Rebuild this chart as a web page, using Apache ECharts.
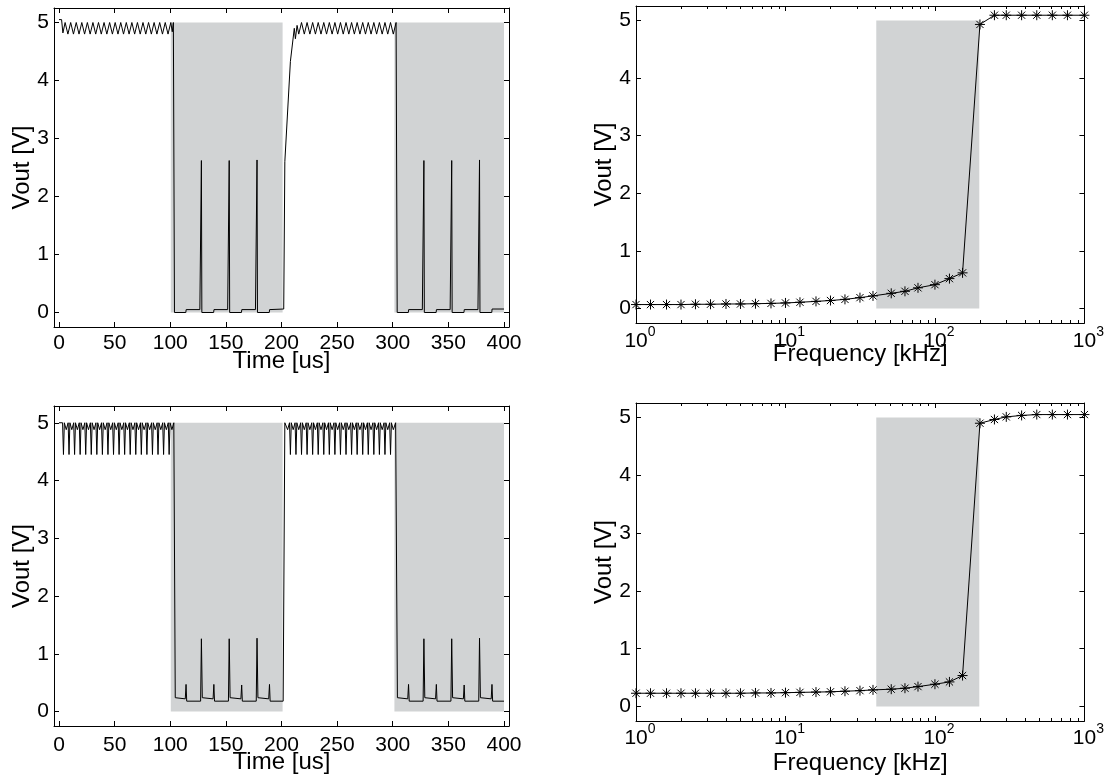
<!DOCTYPE html>
<html>
<head>
<meta charset="utf-8">
<script src="https://cdn.jsdelivr.net/npm/echarts@6/dist/echarts.min.js"></script>
<style>
html,body{margin:0;padding:0;background:#fff;}
#chart{width:1107px;height:780px;}
</style>
</head>
<body>
<div id="chart"></div>
<script>
// ---------- DATA ----------
const timeTicks = [0, 50, 100, 150, 200, 250, 300, 350, 400];
const voltTicks = [0, 1, 2, 3, 4, 5];
const minorFreqTicks = [2,3,4,5,6,7,8,9,20,30,40,50,60,70,80,90,200,300,400,500,600,700,800,900];

// top-left transient waveform [time us, Vout V]
const tlWave = [
 [0,5.05],[2.3,5.05],[3.5,4.82],
 [5.5,5.0],[8,4.8],[10.5,5.0],[13,4.8],[15.5,5.0],[18,4.8],[20.5,5.0],[23,4.8],[25.5,5.0],[28,4.8],
 [30.5,5.0],[33,4.8],[35.5,5.0],[38,4.8],[40.5,5.0],[43,4.8],[45.5,5.0],[48,4.8],[50.5,5.0],[53,4.8],
 [55.5,5.0],[58,4.8],[60.5,5.0],[63,4.8],[65.5,5.0],[68,4.8],[70.5,5.0],[73,4.8],[75.5,5.0],[78,4.8],
 [80.5,5.0],[83,4.8],[85.5,5.0],[88,4.8],[90.5,5.0],[93,4.8],[95.5,5.0],[98,4.8],[100.5,5.0],[101.8,4.84],[102.8,5.0],
 [103.8,0.0],[114,0.0],[114.3,0.05],[126.6,0.05],[128,2.62],[128.4,0.0],
 [139,0.0],[139.3,0.05],[151.6,0.05],[153,2.62],[153.4,0.0],
 [164,0.0],[164.3,0.05],[176.6,0.05],[178,2.63],[178.4,0.0],
 [189,0.0],[189.3,0.05],[202,0.06],[203,2.6],[204.5,2.62],[208,4.33],[209,4.36],[211.5,4.9],[212.5,4.72],
 [214,4.95],[215.5,4.8],[218,5.0],[220.5,4.8],[223,5.0],[225.5,4.8],[228,5.0],[230.5,4.8],[233,5.0],[235.5,4.8],
 [238,5.0],[240.5,4.8],[243,5.0],[245.5,4.8],[248,5.0],[250.5,4.8],[253,5.0],[255.5,4.8],[258,5.0],[260.5,4.8],
 [263,5.0],[265.5,4.8],[268,5.0],[270.5,4.8],[273,5.0],[275.5,4.8],[278,5.0],[280.5,4.8],[283,5.0],[285.5,4.8],
 [288,5.0],[290.5,4.8],[293,5.0],[295.5,4.8],[298,5.0],[300.5,4.8],[303,5.0],
 [304,0.0],[314,0.0],[314.3,0.05],[326.6,0.05],[328,2.62],[328.4,0.0],
 [339,0.0],[339.3,0.05],[351.6,0.05],[353,2.62],[353.4,0.0],
 [364,0.0],[364.3,0.05],[376.6,0.05],[378,2.63],[378.4,0.0],
 [389,0.0],[389.3,0.06],[400,0.06]
];

// bottom-left transient waveform [time us, Vout V]
const blWave = [
 [0,5.0],[3.2,5.0],
 [4,4.45],[4.8,5.0],[6.5,4.88],[8.2,5.0],
 [9,4.45],[9.8,5.0],[11.5,4.88],[13.2,5.0],
 [14,4.45],[14.8,5.0],[16.5,4.88],[18.2,5.0],
 [19,4.45],[19.8,5.0],[21.5,4.88],[23.2,5.0],
 [24,4.45],[24.8,5.0],[26.5,4.88],[28.2,5.0],
 [29,4.45],[29.8,5.0],[31.5,4.88],[33.2,5.0],
 [34,4.45],[34.8,5.0],[36.5,4.88],[38.2,5.0],
 [39,4.45],[39.8,5.0],[41.5,4.88],[43.2,5.0],
 [44,4.45],[44.8,5.0],[46.5,4.88],[48.2,5.0],
 [49,4.45],[49.8,5.0],[51.5,4.88],[53.2,5.0],
 [54,4.45],[54.8,5.0],[56.5,4.88],[58.2,5.0],
 [59,4.45],[59.8,5.0],[61.5,4.88],[63.2,5.0],
 [64,4.45],[64.8,5.0],[66.5,4.88],[68.2,5.0],
 [69,4.45],[69.8,5.0],[71.5,4.88],[73.2,5.0],
 [74,4.45],[74.8,5.0],[76.5,4.88],[78.2,5.0],
 [79,4.45],[79.8,5.0],[81.5,4.88],[83.2,5.0],
 [84,4.45],[84.8,5.0],[86.5,4.88],[88.2,5.0],
 [89,4.45],[89.8,5.0],[91.5,4.88],[93.2,5.0],
 [94,4.45],[94.8,5.0],[96.5,4.88],[98.2,5.0],
 [99,4.45],[99.8,5.0],[101.5,4.88],[103.2,5.0],
 [104.5,0.24],[113.5,0.22],[114.2,0.47],[114.8,0.18],[127.3,0.18],[128,1.26],[128.8,0.24],
 [138.5,0.22],[139.2,0.47],[139.8,0.18],[152.3,0.18],[153,1.26],[153.8,0.24],
 [163.5,0.22],[164.2,0.46],[164.8,0.18],[177.3,0.18],[178,1.27],[178.8,0.24],
 [188.5,0.22],[189.2,0.47],[189.8,0.18],[201.5,0.18],[203,5.0],
 [205.5,4.88],[207.2,5.0],
 [208,4.45],[208.8,5.0],[210.5,4.88],[212.2,5.0],
 [213,4.45],[213.8,5.0],[215.5,4.88],[217.2,5.0],
 [218,4.45],[218.8,5.0],[220.5,4.88],[222.2,5.0],
 [223,4.45],[223.8,5.0],[225.5,4.88],[227.2,5.0],
 [228,4.45],[228.8,5.0],[230.5,4.88],[232.2,5.0],
 [233,4.45],[233.8,5.0],[235.5,4.88],[237.2,5.0],
 [238,4.45],[238.8,5.0],[240.5,4.88],[242.2,5.0],
 [243,4.45],[243.8,5.0],[245.5,4.88],[247.2,5.0],
 [248,4.45],[248.8,5.0],[250.5,4.88],[252.2,5.0],
 [253,4.45],[253.8,5.0],[255.5,4.88],[257.2,5.0],
 [258,4.45],[258.8,5.0],[260.5,4.88],[262.2,5.0],
 [263,4.45],[263.8,5.0],[265.5,4.88],[267.2,5.0],
 [268,4.45],[268.8,5.0],[270.5,4.88],[272.2,5.0],
 [273,4.45],[273.8,5.0],[275.5,4.88],[277.2,5.0],
 [278,4.45],[278.8,5.0],[280.5,4.88],[282.2,5.0],
 [283,4.45],[283.8,5.0],[285.5,4.88],[287.2,5.0],
 [288,4.45],[288.8,5.0],[290.5,4.88],[292.2,5.0],
 [293,4.45],[293.8,5.0],[295.5,4.88],[297.2,5.0],
 [298,4.45],[298.8,5.0],[300.5,4.88],[302.6,5.0],
 [304.2,0.24],[313.5,0.22],[314.2,0.47],[314.8,0.18],[327.3,0.18],[328,1.26],[328.8,0.24],
 [338.5,0.22],[339.2,0.47],[339.8,0.18],[352.3,0.18],[353,1.26],[353.8,0.24],
 [363.5,0.22],[364.2,0.46],[364.8,0.18],[377.3,0.18],[378,1.27],[378.8,0.24],
 [388.5,0.22],[389.2,0.47],[389.8,0.18],[400,0.18]
];

// frequency sweeps
const freqKHz = [1,1.25,1.6,2,2.5,3.15,4,5,6.3,8,10,12.5,16,20,25,31.5,38.5,51,63,77,100,125,153,200,250,300,380,480,610,770,1000];
const trVout = [0.07,0.07,0.07,0.07,0.075,0.075,0.08,0.08,0.085,0.09,0.098,0.11,0.125,0.14,0.16,0.19,0.22,0.265,0.3,0.36,0.415,0.52,0.62,4.93,5.09,5.09,5.09,5.09,5.09,5.09,5.09];
const brVout = [0.23,0.23,0.23,0.23,0.23,0.23,0.23,0.23,0.235,0.235,0.24,0.245,0.25,0.255,0.265,0.275,0.288,0.3,0.317,0.345,0.386,0.426,0.536,4.9,4.965,5.01,5.035,5.05,5.05,5.05,5.05];

// shaded regions [x0, x1, y0, y1]
const tlBoxes = [[100.5, 201, 0, 5], [301.5, 400, 0, 5]];
const blBoxes = [[100.5, 201, 0, 5], [301.5, 400, 0, 5]];
const trBoxes = [[40.5, 198, 0, 5]];
const brBoxes = [[40.5, 198, 0, 5]];

// ---------- CHART ----------
const FONT = "'Liberation Sans', Arial, Helvetica, sans-serif";
const INK = '#000';
const GRAY = '#d1d3d4';

const grids = [
  {left: 54, top: 8, width: 455, height: 319},
  {left: 636, top: 6, width: 452, height: 317},
  {left: 54, top: 406, width: 455, height: 320},
  {left: 636, top: 403, width: 452, height: 318}
];

function xLin(gi, pos, name, gap, margin) {
  return {
    gridIndex: gi, type: 'value', position: pos, min: -4.5, max: 404.5,
    name: name || '', nameLocation: 'middle', nameGap: gap || 0, nameMoveOverlap: false,
    nameTextStyle: {fontSize: 24, fontFamily: FONT, color: INK},
    axisLine: {show: true, onZero: false, lineStyle: {color: INK, width: 1}},
    axisTick: {show: true, inside: true, length: 5, customValues: timeTicks, lineStyle: {color: INK, width: 1}},
    axisLabel: {show: pos === 'bottom', customValues: timeTicks, fontSize: 21, fontFamily: FONT, color: INK, margin: margin || 6},
    splitLine: {show: false}
  };
}
function xLog(gi, pos, name, gap, margin) {
  return {
    gridIndex: gi, type: 'log', logBase: 10, position: pos, min: 1, max: 1000,
    name: name || '', nameLocation: 'middle', nameGap: gap || 0, nameMoveOverlap: false,
    nameTextStyle: {fontSize: 24, fontFamily: FONT, color: INK},
    axisLine: {show: true, onZero: false, lineStyle: {color: INK, width: 1}},
    axisTick: {show: true, inside: true, length: 5, lineStyle: {color: INK, width: 1}},
    axisLabel: {
      show: pos === 'bottom', margin: margin || 2, color: INK, fontFamily: FONT,
      formatter: function (v) { return '{b|10}{s|' + Math.round(Math.log10(v)) + '}'; },
      rich: {
        b: {fontSize: 21, fontFamily: FONT, color: INK, verticalAlign: 'bottom', padding: [6, 0, 0, 8]},
        s: {fontSize: 14, fontFamily: FONT, color: INK, verticalAlign: 'top'}
      }
    },
    splitLine: {show: false}
  };
}
function yLin(gi, pos, ymax, name) {
  return {
    gridIndex: gi, type: 'value', position: pos, min: -0.25, max: ymax,
    name: name || '', nameLocation: 'middle', nameRotate: 90, nameGap: 20, nameMoveOverlap: false,
    nameTextStyle: {fontSize: 24, fontFamily: FONT, color: INK},
    axisLine: {show: true, onZero: false, lineStyle: {color: INK, width: 1}},
    axisTick: {show: true, inside: true, length: 5, customValues: voltTicks, lineStyle: {color: INK, width: 1}},
    axisLabel: {show: pos === 'left', customValues: voltTicks, fontSize: 21, fontFamily: FONT, color: INK, margin: 5},
    splitLine: {show: false}
  };
}

const xAxes = [
  xLin(0, 'bottom', 'Time [us]', 22, 6), xLin(0, 'top'),
  xLog(1, 'bottom', 'Frequency [kHz]', 19, 2), xLog(1, 'top'),
  xLin(2, 'bottom', 'Time [us]', 24, 9), xLin(2, 'top'),
  xLog(3, 'bottom', 'Frequency [kHz]', 30, 1), xLog(3, 'top')
];
const yAxes = [
  yLin(0, 'left', 5.25, 'Vout [V]'), yLin(0, 'right', 5.25),
  yLin(1, 'left', 5.25, 'Vout [V]'), yLin(1, 'right', 5.25),
  yLin(2, 'left', 5.29, 'Vout [V]'), yLin(2, 'right', 5.29),
  yLin(3, 'left', 5.25, 'Vout [V]'), yLin(3, 'right', 5.25)
];

function boxSeries(gi, boxes) {
  return {
    type: 'custom', xAxisIndex: 2 * gi, yAxisIndex: 2 * gi, z: 1, silent: true,
    data: boxes,
    renderItem: function (params, api) {
      const p0 = api.coord([api.value(0), api.value(3)]);
      const p1 = api.coord([api.value(1), api.value(2)]);
      return {type: 'rect', shape: {x: p0[0], y: p0[1], width: p1[0] - p0[0], height: p1[1] - p0[1]},
              style: {fill: GRAY}};
    }
  };
}
function minorTickSeries(gi) {
  return {
    type: 'custom', xAxisIndex: 2 * gi, yAxisIndex: 2 * gi, z: 5, silent: true, clip: false,
    data: minorFreqTicks.map(function (f) { return [f, 1]; }),
    renderItem: function (params, api) {
      const cs = params.coordSys;
      const x = Math.round(api.coord([api.value(0), 1])[0]) + 0.5;
      return {type: 'group', children: [
        {type: 'line', shape: {x1: x, y1: cs.y + cs.height, x2: x, y2: cs.y + cs.height - 3}, style: {stroke: INK, lineWidth: 1}},
        {type: 'line', shape: {x1: x, y1: cs.y, x2: x, y2: cs.y + 3}, style: {stroke: INK, lineWidth: 1}}
      ]};
    }
  };
}
function waveSeries(gi, data) {
  return {
    type: 'line', xAxisIndex: 2 * gi, yAxisIndex: 2 * gi, z: 3, data: data,
    showSymbol: false, symbol: 'none', lineStyle: {color: INK, width: 1}, silent: true
  };
}
const STAR = 'path://M0,-5L0,5M-5,0L5,0M-3.6,-3.6L3.6,3.6M-3.6,3.6L3.6,-3.6';
function sweepSeries(gi, ys) {
  return {
    type: 'line', xAxisIndex: 2 * gi, yAxisIndex: 2 * gi, z: 3,
    data: freqKHz.map(function (f, i) { return [f, ys[i]]; }),
    symbol: STAR, symbolSize: 10, showSymbol: true, clip: false,
    itemStyle: {color: INK, borderColor: INK, borderWidth: 1},
    lineStyle: {color: INK, width: 1}, silent: true
  };
}

const chart = echarts.init(document.getElementById('chart'), null, {renderer: 'canvas'});
chart.setOption({
  animation: false,
  backgroundColor: '#fff',
  grid: grids,
  xAxis: xAxes,
  yAxis: yAxes,
  series: [
    boxSeries(0, tlBoxes), waveSeries(0, tlWave),
    boxSeries(1, trBoxes), sweepSeries(1, trVout), minorTickSeries(1),
    boxSeries(2, blBoxes), waveSeries(2, blWave),
    boxSeries(3, brBoxes), sweepSeries(3, brVout), minorTickSeries(3)
  ]
});
</script>
</body>
</html>
